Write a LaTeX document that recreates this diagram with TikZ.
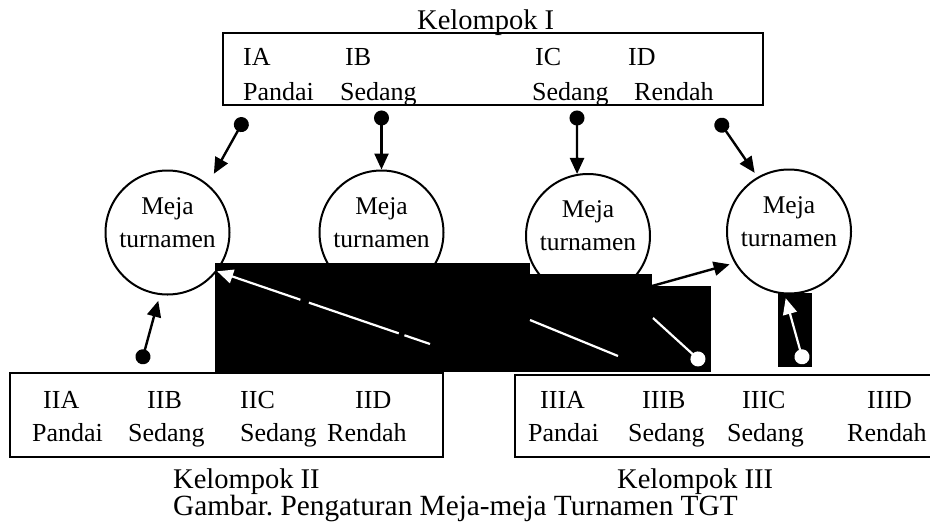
\documentclass[tikz,border=0pt]{standalone}
\usepackage{fontspec}
\setmainfont{Liberation Serif}
\usetikzlibrary{arrows.meta}

\begin{document}
\begin{tikzpicture}[x=1pt,y=-1pt,
    txt/.style={anchor=base west, inner sep=0pt, font=\fontsize{26}{30}\selectfont},
    judul/.style={anchor=base west, inner sep=0pt, font=\fontsize{28.5}{32}\selectfont},
    kotak/.style={draw, line width=2.6pt},
    meja/.style={draw, circle, line width=2pt, minimum size=124pt, inner sep=0pt,
        align=center, text depth=20pt, font=\fontsize{25.5}{33}\selectfont},
    pin/.style={line width=2.4pt, {Circle[length=15pt]}-{Triangle[length=16pt,width=14pt]}},
    putih/.style={white, line width=2.2pt},
    blok/.style={fill=black}]
    \useasboundingbox (0,0) rectangle (930,531);

    \node[judul] (k1) at (417,29) {Kelompok I};
    \draw[kotak] (223,33) rectangle (763,105);
    \node[txt] (ia) at (243,65) {IA};
    \node[txt] (ib) at (345,65) {IB};
    \node[txt] (ic) at (535,65) {IC};
    \node[txt] (id) at (628,65) {ID};
    \node[txt] (ia2) at (243,100) {Pandai};
    \node[txt] (ib2) at (340,100) {Sedang};
    \node[txt] (ic2) at (532,100) {Sedang};
    \node[txt] (id2) at (634,100) {Rendah};

    \node[meja] (m1) at (167.5,232.5) {Meja\\turnamen};
    \node[meja] (m2) at (381.5,232.5) {Meja\\turnamen};
    \node[meja] (m3) at (588,236) {Meja\\turnamen};
    \node[meja] (m4) at (789,231.5) {Meja\\turnamen};

    \draw[kotak] (10,373) rectangle (443,457);
    \node[txt] (iia) at (43,408) {IIA};
    \node[txt] (iib) at (147,408) {IIB};
    \node[txt] (iic) at (240,408) {IIC};
    \node[txt] (iid) at (355,408) {IID};
    \node[txt] (iia2) at (32,441) {Pandai};
    \node[txt] (iib2) at (128,441) {Sedang};
    \node[txt] (iic2) at (240,441) {Sedang};
    \node[txt] (iid2) at (327,441) {Rendah};

    \draw[kotak] (515,375) rectangle (945,457);
    \node[txt] (iiia) at (540,408) {IIIA};
    \node[txt] (iiib) at (642,408) {IIIB};
    \node[txt] (iiic) at (742,408) {IIIC};
    \node[txt] (iiid) at (867,408) {IIID};
    \node[txt] (iiia2) at (528,441) {Pandai};
    \node[txt] (iiib2) at (628,441) {Sedang};
    \node[txt] (iiic2) at (727,441) {Sedang};
    \node[txt] (iiid2) at (847,441) {Rendah};

    \node[judul] (k2) at (173,488) {Kelompok II};
    \node[judul] (k3) at (617,488) {Kelompok III};
    \node[judul, font=\fontsize{29.3}{32}\selectfont\frenchspacing] (gbr) at (173,515)
        {Gambar. Pengaturan Meja-meja Turnamen TGT};

    \coordinate (d1) at (245,118);
    \coordinate (d2) at (381.5,110.5);
    \coordinate (d3) at (577,110.5);
    \coordinate (d4) at (717.6,119);
    \coordinate (d5) at (141,364);
    \draw[pin, shorten >=12pt] (d1) -- (m1.50);
    \draw[pin] (d2) -- (m2.north);
    \draw[pin] (d3) -- (m3.100);
    \draw[pin, shorten >=5pt] (d4) -- (m4.120);
    \draw[pin, shorten >=6pt] (d5) -- (m1.263);

    \fill[blok] (215,263) rectangle (530,372);
    \fill[blok] (530,274) rectangle (652,372);
    \fill[blok] (652,286) rectangle (711,372);
    \fill[blok] (778,293) rectangle (812,367);

    \coordinate (w1) at (430,344);
    \coordinate (w2a) at (530,320);
    \coordinate (w2b) at (618,356);
    \coordinate (w3a) at (653,318);
    \coordinate (w3b) at (703.5,364);
    \coordinate (w4) at (804,364);
    \draw[putih, dash pattern=on 27pt off 6pt on 95pt off 9pt on 300pt,
        -{Triangle[length=16pt,width=14pt]}] (w1) -- (m1.-38);
    \draw[putih] (w2a) -- (w2b);
    \draw[putih, -{Circle[length=15pt]}] (w3a) -- (w3b);
    \draw[putih, {Circle[length=15pt]}-{Triangle[length=16pt,width=14pt]}, shorten >=4pt] (w4) -- (m4.266);

    \coordinate (b1) at (652,286);
    \draw[line width=2.4pt, -{Triangle[length=16pt,width=14pt]}, shorten >=5pt] (b1) -- (m4.210);
\end{tikzpicture}
\end{document}
